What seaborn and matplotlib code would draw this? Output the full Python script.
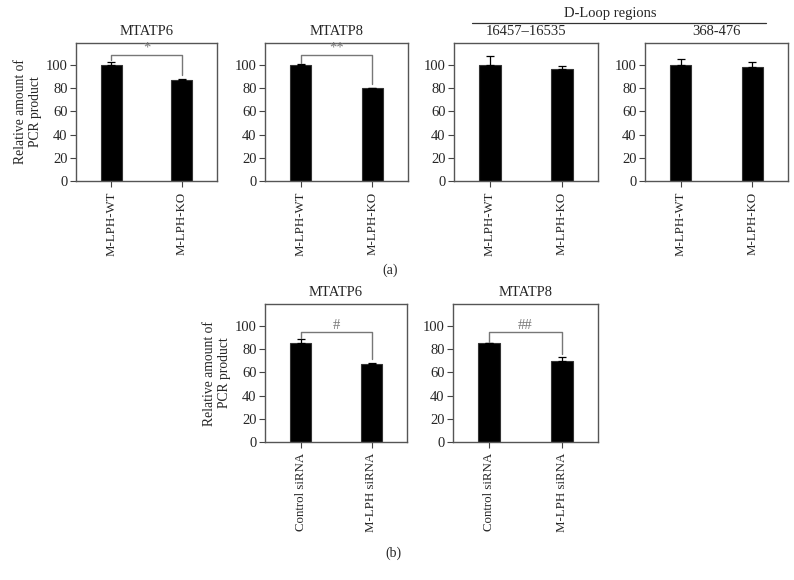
import numpy as np
import pandas as pd
import seaborn as sns
import matplotlib.pyplot as plt

# data
groups_a = ["M-LPH-WT", "M-LPH-KO"]
groups_b = ["Control siRNA", "M-LPH siRNA"]

atp6_a = [100, 87]
atp6_a_err = [3, 1]
atp8_a = [100, 80]
atp8_a_err = [1, 0.6]
dloop1 = [100, 97]
dloop1_err = [8, 2]
dloop2 = [100, 98]
dloop2_err = [5, 5]

atp6_b = [85, 67]
atp6_b_err = [3.5, 1.5]
atp8_b = [85, 70]
atp8_b_err = [0.6, 3]

sns.set_style("white")
plt.rcParams['font.family'] = ['Liberation Serif', 'DejaVu Serif']
plt.rcParams['font.size'] = 10

fig = plt.figure(figsize=(7.94, 5.80), dpi=100)
W, H = 794, 580


def make_ax(x0, x1, top, bot):
    return fig.add_axes([x0 / W, (H - bot) / H, (x1 - x0) / W, (bot - top) / H])


def panel(ax, groups, vals, errs, title=None, sig=None, sig_y=None, ylabel=False):
    df = pd.DataFrame({"group": groups, "val": vals})
    sns.barplot(data=df, x="group", y="val", color="black", width=0.3,
                edgecolor="#333333", linewidth=0.8, saturation=1, ax=ax)
    xs = np.arange(len(groups))
    # only the upper half of each error bar shows above the bar
    ax.errorbar(xs, vals, yerr=[np.zeros(len(errs)), errs], fmt="none",
                ecolor="black", elinewidth=0.9, capsize=3, capthick=0.9)
    ax.set_xlim(-0.5, 1.5)
    ax.set_ylim(0, 119)
    ax.set_yticks([0, 20, 40, 60, 80, 100])
    ax.set_xlabel("")
    ax.set_ylabel("")
    ax.tick_params(axis="x", rotation=90, labelsize=9.3, length=4, direction="out",
                   color="#444444", bottom=True)
    ax.tick_params(axis="y", labelsize=10.5, length=4, direction="out",
                   color="#444444", left=True, pad=2)
    for s in ax.spines.values():
        s.set_color("#555555")
        s.set_linewidth(1.0)
    if title:
        ax.set_title(title, fontsize=10.5, pad=6)
    if ylabel:
        ax.set_ylabel("Relative amount of\nPCR product", fontsize=9.8, labelpad=3)
    if sig:
        left_end = vals[0] + errs[0] + 1
        right_end = vals[1] + errs[1] + 3
        ax.plot([0, 0, 1, 1], [left_end, sig_y, sig_y, right_end],
                color="#777777", lw=1.0)
        ax.text(0.5, sig_y, sig, ha="center", va="bottom",
                fontsize=10.5, color="#777777")


ax1 = make_ax(76, 217, 43, 181)
panel(ax1, groups_a, atp6_a, atp6_a_err, "MTATP6", "*", 109, ylabel=True)
ax2 = make_ax(265, 408, 43, 181)
panel(ax2, groups_a, atp8_a, atp8_a_err, "MTATP8", "**", 109)
ax3 = make_ax(454, 598, 43, 181)
panel(ax3, groups_a, dloop1, dloop1_err, "16457\u201316535")
ax4 = make_ax(645, 788, 43, 181)
panel(ax4, groups_a, dloop2, dloop2_err, "368-476")

ax5 = make_ax(265, 407, 304, 442)
panel(ax5, groups_b, atp6_b, atp6_b_err, "MTATP6", "#", 95, ylabel=True)
ax6 = make_ax(453, 598, 304, 442)
panel(ax6, groups_b, atp8_b, atp8_b_err, "MTATP8", "##", 95)

# D-Loop header with line
fig.add_artist(plt.Line2D([472 / W, 766 / W], [(H - 22.5) / H] * 2,
                          color="#333333", lw=0.9))
fig.text(610 / W, (H - 13) / H, "D-Loop regions", ha="center", va="center", fontsize=10.5)

fig.text(390 / W, (H - 270) / H, "(a)", ha="center", va="center", fontsize=10)
fig.text(393 / W, (H - 553) / H, "(b)", ha="center", va="center", fontsize=10)

fig.savefig("out.png", dpi=100)
